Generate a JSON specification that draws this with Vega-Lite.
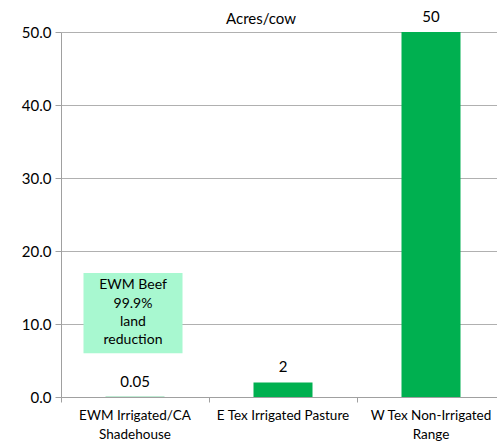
{
  "$schema": "https://vega.github.io/schema/vega-lite/v6.json",
  "autosize": {"type": "none"},
  "width": 444,
  "height": 365,
  "padding": {"left": 61, "top": 32, "right": 0, "bottom": 45},
  "background": "white",
  "config": {
    "font": "Lato",
    "view": {"stroke": null}
  },
  "title": {"text": "Acres/cow", "fontSize": 15, "fontWeight": "normal", "color": "#000000", "dx": -22, "offset": 0, "dy": 17, "anchor": "middle"},
  "datasets": {
    "bars": [
      {"category": "EWM Irrigated/CA|Shadehouse", "value": 0.05, "label": "0.05"},
      {"category": "E Tex Irrigated Pasture", "value": 2, "label": "2"},
      {"category": "W Tex Non-Irrigated|Range", "value": 50, "label": "50"}
    ],
    "note": [
      {"category": "EWM Irrigated/CA|Shadehouse", "y": 6, "y2": 17, "first": 15.3, "text": "EWM Beef\n99.9%\nland\nreduction"}
    ]
  },
  "layer": [
    {
      "data": {"name": "bars"},
      "mark": {"type": "bar", "width": 59, "color": "#00b050"},
      "encoding": {
        "x": {
          "field": "category", "type": "nominal", "sort": null, "title": null,
          "scale": {"paddingInner": 0, "paddingOuter": 0},
          "axis": {
            "labelExpr": "split(datum.label, '|')",
            "labelAngle": 0, "labelFontSize": 13.5, "labelColor": "#000000",
            "labelLineHeight": 19, "labelPadding": 6,
            "bandPosition": 0, "tickColor": "#a0a0a0", "tickSize": 5,
            "domainColor": "#a0a0a0", "grid": false, "labelLimit": 200
          }
        },
        "y": {
          "field": "value", "type": "quantitative", "title": null,
          "scale": {"domain": [0, 50], "nice": false},
          "axis": {
            "values": [0, 10, 20, 30, 40, 50], "format": ".1f",
            "labelFontSize": 15, "labelColor": "#000000", "labelPadding": 4,
            "tickColor": "#a0a0a0", "tickSize": 6,
            "domainColor": "#a0a0a0", "gridColor": "#b0b0b0", "grid": true
          }
        }
      }
    },
    {
      "data": {"name": "bars"},
      "mark": {"type": "text", "fontSize": 15, "color": "#000000", "dy": -7, "baseline": "bottom"},
      "encoding": {
        "x": {"field": "category", "type": "nominal", "sort": null},
        "y": {"field": "value", "type": "quantitative"},
        "text": {"field": "label"}
      }
    },
    {
      "data": {"name": "note"},
      "mark": {"type": "bar", "width": 99, "color": "#a8f8d0", "xOffset": -2},
      "encoding": {
        "x": {"field": "category", "type": "nominal", "sort": null},
        "y": {"field": "y", "type": "quantitative"},
        "y2": {"field": "y2"}
      }
    },
    {
      "data": {"name": "note"},
      "mark": {"type": "text", "fontSize": 14, "color": "#000000", "lineBreak": "\n", "lineHeight": 18.3, "baseline": "middle", "xOffset": -2},
      "encoding": {
        "x": {"field": "category", "type": "nominal", "sort": null},
        "y": {"field": "first", "type": "quantitative"},
        "text": {"field": "text"}
      }
    }
  ]
}
